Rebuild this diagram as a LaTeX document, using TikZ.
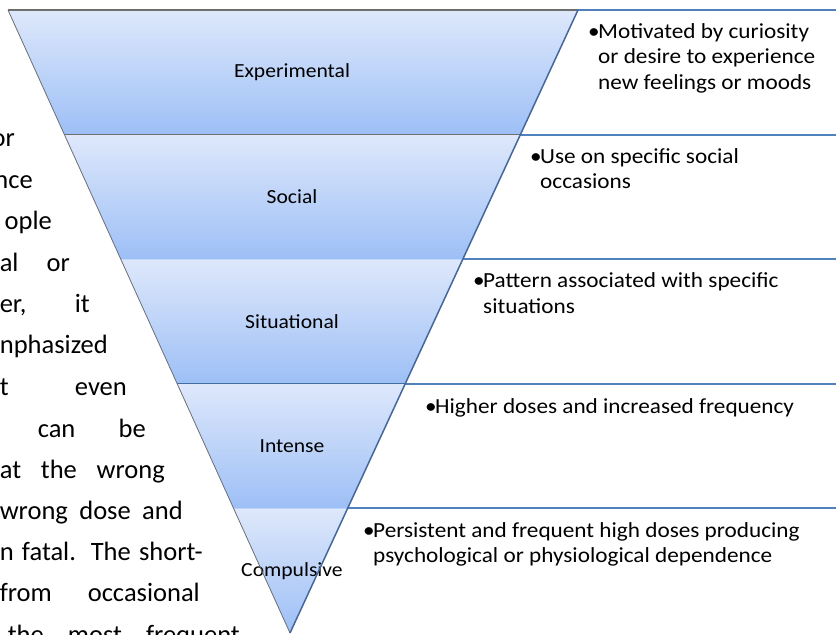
\documentclass[tikz,border=0pt]{standalone}
\usepackage{fontspec}
\setmainfont{Carlito}
\newfontfamily\diagfont[FakeStretch=1.08]{Carlito}
\usepackage{tikz}
\usetikzlibrary{calc}
\definecolor{bandtop}{RGB}{222,232,251}
\definecolor{bandbot}{RGB}{157,191,246}
\definecolor{rowblue}{RGB}{79,129,189}
\definecolor{slantblue}{RGB}{68,104,158}
\definecolor{edgegray}{RGB}{110,110,110}
\newcommand{\jl}[2]{\makebox[#1][s]{#2}}
\newcommand{\bul}{\makebox[10pt][l]{•}}
\newcommand{\ind}{\hspace*{10pt}}

\begin{document}
\begin{tikzpicture}[
  x=1pt, y=-1pt,
  bodytext/.style={anchor=base east, inner sep=0pt, font=\fontsize{26.5}{32}\selectfont},
  bandlabel/.style={inner sep=0pt, font=\diagfont\fontsize{20}{24}\selectfont},
  rowtext/.style={anchor=base west, inner sep=0pt, align=left, font=\diagfont\fontsize{21.5}{25.5}\selectfont},
  rowline/.style={draw=rowblue, line width=1.8pt},
  divider/.style={line width=1.2pt}
]
  \fill[white] (0,0) rectangle (836,635);
  \useasboundingbox (0,0) rectangle (836,635);

  \foreach \xe/\yb/\txt [count=\i] in {15/146/or, 33/188/nce, 52/229/ople,
      70/271/{\jl{70pt}{al or}}, 90/312/{\jl{90pt}{er, it}}, 108/353/nphasized,
      127/395/{\jl{127pt}{t even}}, 146/437/{\jl{108pt}{can be}},
      165/478/{\jl{165pt}{at the wrong}}, 183/519/{\jl{183pt}{wrong dose and}},
      203/560/{\jl{203pt}{n fatal. The short-}}, 200/601/{\jl{200pt}{from occasional}},
      240/643/{\jl{232pt}{the most frequent}}}
    \node[bodytext] (body\i) at (\xe,\yb) {\txt};

  \coordinate (L) at (8,10);
  \coordinate (R) at (578,10);
  \coordinate (A) at (290,633);
  \coordinate (E) at (836,10);

  \foreach \lab [count=\i from 0] in {Experimental,Social,Situational,Intense,Compulsive}{
    \pgfmathsetmacro\ta{\i*0.2}
    \pgfmathsetmacro\tb{(\i+1)*0.2}
    \shade[top color=bandtop, bottom color=bandbot]
      ($(L)!\ta!(A)$) -- ($(R)!\ta!(A)$) -- ($(R)!\tb!(A)$) -- ($(L)!\tb!(A)$) -- cycle;
    \coordinate (r\i) at ($(R)!\ta!(A)$);
    \coordinate (l\i) at ($(L)!\ta!(A)$);
    \node[bandlabel] (band\i) at (292,{10+623*(0.2*\i+0.1)}) {\lab};
  }

  \draw[divider, draw=edgegray, line width=2pt] (l0) -- (r0);
  \draw[divider, draw=edgegray] (l1) -- (r1);
  \draw[divider, draw=bandtop!60!bandbot] (l2) -- (r2);
  \draw[divider, draw=rowblue!85!black] (l3) -- (r3);
  \draw[divider, draw=bandtop!50!bandbot] (l4) -- (r4);
  \draw[edgegray, line width=0.8pt] (L) -- (A);

  \foreach \i in {0,...,4}
    \draw[rowline] (r\i) -- (r\i -| E);
  \draw[slantblue, line width=1.5pt] (R) -- (A);

  \node[rowtext] (desc1) at (588,89) {\bul Motivated by curiosity\\\ind or desire to experience\\\ind new feelings or moods};
  \node[rowtext] (desc2) at (530,188.5) {\bul Use on specific social\\\ind occasions};
  \node[rowtext] (desc3) at (473,313) {\bul Pattern associated with specific\\\ind situations};
  \node[rowtext] (desc4) at (425,413) {\bul Higher doses and increased frequency};
  \node[rowtext] (desc5) at (363,562.5) {\bul Persistent and frequent high doses producing\\\ind psychological or physiological dependence};
\end{tikzpicture}
\end{document}
